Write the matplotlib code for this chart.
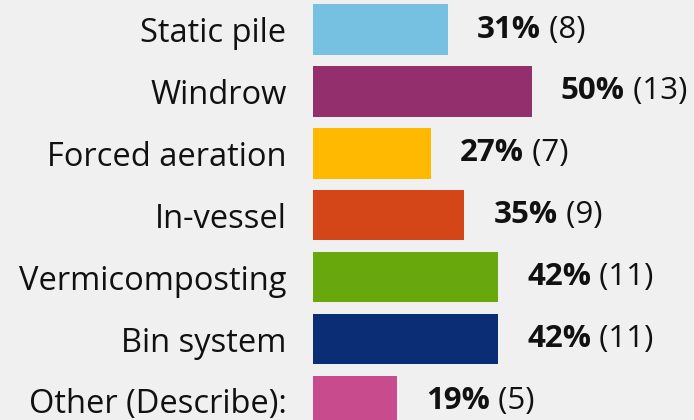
import matplotlib.pyplot as plt

# данные
categories = [
    "Static pile",
    "Windrow",
    "Forced aeration",
    "In-vessel",
    "Vermicomposting",
    "Bin system",
    "Other (Describe):",
]
counts = [8, 13, 7, 9, 11, 11, 5]
total = 26
percents = [c / total * 100 for c in counts]
colors = ["#76c1e1", "#932f6d", "#ffb900", "#d44518", "#68a80d", "#0b2d75", "#c84b8d"]

bg = "#f0f0f0"
plt.rcParams["font.family"] = ["Open Sans", "DejaVu Sans"]

fig = plt.figure(figsize=(6.94, 4.2), dpi=100, facecolor=bg)
ax = fig.add_axes([313 / 694, 0, 381 / 694, 1], facecolor=bg)

y = list(range(len(categories)))
ax.barh(y, percents, height=0.816, color=colors, edgecolor="none")

ax.set_xlim(0, 381 / 4.374)
ax.set_ylim(-0.477 + 420 / 61.9, -0.477)

ax.set_yticks(y)
ax.set_yticklabels(categories, fontsize=23.5, color="#111111")
ax.tick_params(axis="y", length=0, pad=19)
ax.set_xticks([])
for s in ax.spines.values():
    s.set_visible(False)

for yi, p, c in zip(y, percents, counts):
    t = ax.annotate(
        f"{p:.0f}%",
        xy=(p, yi),
        xytext=(21, 0),
        textcoords="offset points",
        ha="left",
        va="center",
        fontsize=22.5,
        fontweight="bold",
        color="#111111",
    )
    ax.annotate(
        f" ({c})",
        xy=(1, 0),
        xycoords=t,
        ha="left",
        va="bottom",
        fontsize=22.5,
        color="#111111",
    )

fig.savefig("out.png", dpi=100, facecolor=bg)
